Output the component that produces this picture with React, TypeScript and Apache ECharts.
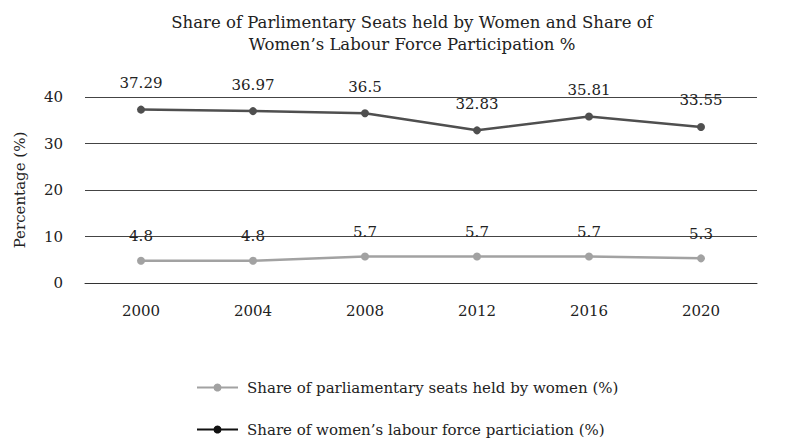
import React, { useEffect, useRef } from "react";
import * as echarts from "echarts";

const years = ["2000", "2004", "2008", "2012", "2016", "2020"];
const seatsShare = [4.8, 4.8, 5.7, 5.7, 5.7, 5.3];
const labourShare = [37.29, 36.97, 36.5, 32.83, 35.81, 33.55];
const yTicks = [0, 10, 20, 30, 40];
const seriesNames = [
  "Share of parliamentary seats held by women (%)",
  "Share of women\u2019s labour force particiation (%)",
];

const FONT = "DejaVu Serif";

export default function App() {
  const ref = useRef<HTMLDivElement>(null);
  useEffect(() => {
    if (!ref.current) return;
    const chart = echarts.init(ref.current, undefined, { renderer: "svg" });
    const legendBase = {
      orient: "vertical",
      left: 191,
      itemWidth: 41,
      itemHeight: 10,
      textStyle: { fontFamily: FONT, fontSize: 15, color: "#222", padding: [0, 0, 0, 4] },
    };
    chart.setOption({
      animation: false,
      backgroundColor: "#ffffff",
      textStyle: { fontFamily: FONT, color: "#222" },
      title: {
        text: "Share of Parlimentary Seats held by Women and Share of\nWomen\u2019s Labour Force Participation %",
        left: 407,
        top: 6,
        textAlign: "center",
        textStyle: { fontFamily: FONT, fontSize: 16.5, fontWeight: "normal", color: "#222", lineHeight: 22 },
      },
      grid: { left: 85, right: 30, top: 97, bottom: 157 },
      xAxis: {
        type: "category",
        data: years,
        boundaryGap: true,
        axisLine: { show: true, lineStyle: { color: "#333", width: 1 } },
        axisTick: { show: false },
        axisLabel: { fontFamily: FONT, fontSize: 15, color: "#222", margin: 20 },
      },
      yAxis: {
        type: "value",
        min: yTicks[0],
        max: yTicks[yTicks.length - 1],
        interval: 10,
        name: "Percentage (%)",
        nameLocation: "middle",
        nameGap: 58,
        nameRotate: 90,
        nameTextStyle: { fontFamily: FONT, fontSize: 15, color: "#222" },
        axisLine: { show: false },
        axisTick: { show: false },
        axisLabel: { fontFamily: FONT, fontSize: 15, color: "#222", margin: 22 },
        splitLine: { show: true, lineStyle: { color: "#444", width: 1 } },
      },
      legend: [
        { ...legendBase, top: 375, data: [seriesNames[0]] },
        {
          ...legendBase,
          top: 417,
          data: [seriesNames[1]],
          itemStyle: { color: "#111111" },
          lineStyle: { color: "#111111" },
        },
      ],
      series: [
        {
          name: seriesNames[0],
          type: "line",
          data: seatsShare,
          symbol: "circle",
          symbolSize: 8,
          lineStyle: { color: "#a2a2a2", width: 2.5 },
          itemStyle: { color: "#a2a2a2" },
          label: { show: true, position: "top", distance: 13, fontFamily: FONT, fontSize: 15, color: "#222" },
        },
        {
          name: seriesNames[1],
          type: "line",
          data: labourShare,
          symbol: "circle",
          symbolSize: 8,
          lineStyle: { color: "#4f4f4f", width: 2.5 },
          itemStyle: { color: "#4f4f4f" },
          label: { show: true, position: "top", distance: 15, fontFamily: FONT, fontSize: 15, color: "#222" },
        },
      ],
    });
    return () => chart.dispose();
  }, []);
  return <div ref={ref} style={{ width: 787, height: 440, position: "absolute", left: 0, top: 0 }} />;
}
